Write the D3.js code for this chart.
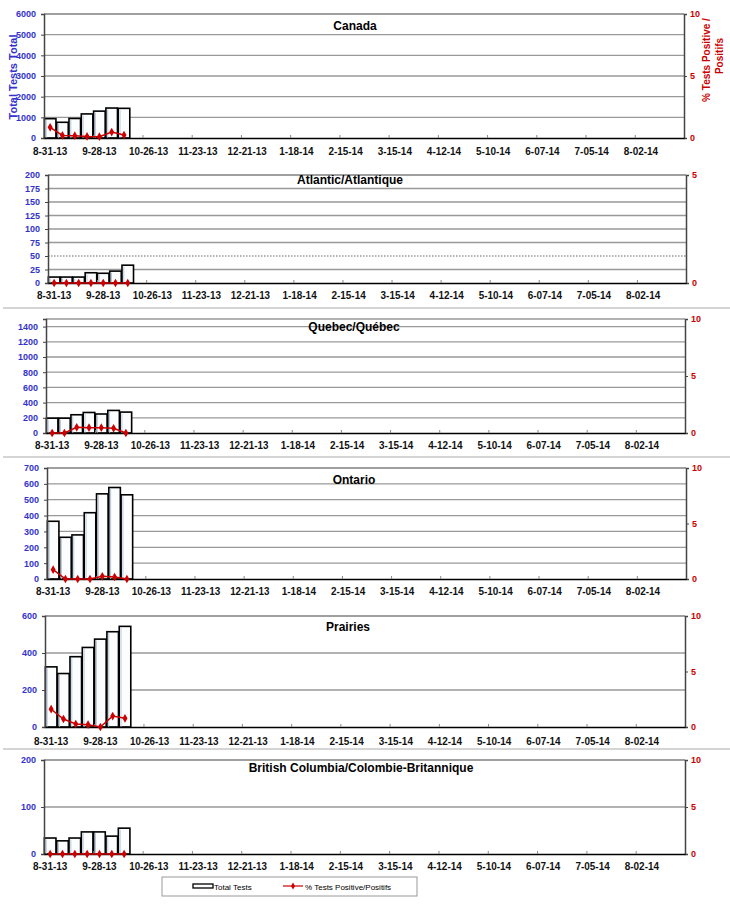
<!DOCTYPE html>
<html><head><meta charset="utf-8">
<script src="https://cdn.jsdelivr.net/npm/d3@7/dist/d3.min.js"></script>
<style>
body{margin:0;background:#fff;}
svg{display:block;font-family:"Liberation Sans",Arial,sans-serif;}
</style></head>
<body>
<svg id="c" width="730" height="915"></svg>
<script>
// ---- data ----
const startWeek = new Date(2013, 7, 31);
const weekCount = 52;
const tickLabels = ["8-31-13","9-28-13","10-26-13","11-23-13","12-21-13","1-18-14","2-15-14","3-15-14","4-12-14","5-10-14","6-07-14","7-05-14","8-02-14"];
const regions = ["Canada","Atlantic/Atlantique","Quebec/Québec","Ontario","Prairies","British Columbia/Colombie-Britannique"];
const canadaTests = [935, 760, 945, 1165, 1300, 1450, 1435];
const canadaPct = [0.86, 0.21, 0.19, 0.13, 0.11, 0.48, 0.24];
const atlanticTests = [11, 11, 11, 19, 18, 22, 33];
const atlanticPct = [0, 0, 0, 0, 0, 0, 0];
const quebecTests = [195, 195, 240, 270, 250, 297, 275];
const quebecPct = [0, 0, 0.5, 0.47, 0.47, 0.41, 0];
const ontarioTests = [364, 263, 278, 418, 537, 577, 531];
const ontarioPct = [0.84, 0, 0, 0, 0.24, 0.18, 0];
const prairiesTests = [325, 289, 380, 430, 475, 515, 544];
const prairiesPct = [1.6, 0.72, 0.27, 0.21, 0, 0.99, 0.78];
const bcTests = [34, 28, 34, 47, 47, 38, 55];
const bcPct = [0, 0, 0, 0, 0, 0, 0];
const leftMax = [6000, 200, 1500, 700, 600, 200];
const leftTickStep = [1000, 25, 200, 100, 200, 100];
const rightMax = [10, 5, 10, 10, 10, 10];
const testsSeries = [canadaTests, atlanticTests, quebecTests, ontarioTests, prairiesTests, bcTests];
const pctSeries = [canadaPct, atlanticPct, quebecPct, ontarioPct, prairiesPct, bcPct];

// ---- layout ----
const panels = [
  {l:44, r:684, t:14,  b:138, tx:355, ty:30,  ly:155},
  {l:48, r:686, t:175, b:283, tx:350, ty:184, ly:299},
  {l:46, r:685, t:319, b:433, tx:354, ty:331, ly:449},
  {l:47, r:686, t:468, b:579, tx:354, ty:484, ly:595},
  {l:45, r:685, t:616, b:727, tx:348, ty:631, ly:745},
  {l:44, r:685, t:760, b:854, tx:361, ty:772, ly:870}
];
const separators = [308, 457, 749];
const blue = "#3333cc", red = "#cc0000";

const weeks = d3.range(weekCount).map(i => d3.timeDay.offset(startWeek, i*7));
const svg = d3.select("#c");

svg.selectAll("line.sep").data(separators).join("line")
  .attr("x1", 3).attr("x2", 730).attr("y1", d=>d).attr("y2", d=>d)
  .attr("stroke", "#aaa").attr("stroke-width", 1);

panels.forEach((p, pi) => {
  const g = svg.append("g");
  const x = d3.scaleBand().domain(weeks).range([p.l, p.r]).paddingInner(0.06).paddingOuter(0.03);
  const xc = d3.scaleBand().domain(weeks).range([p.l, p.r]);
  const y = d3.scaleLinear().domain([0, leftMax[pi]]).range([p.b, p.t]);
  const y2 = d3.scaleLinear().domain([0, rightMax[pi]]).range([p.b, p.t]);
  const lticks = d3.range(0, leftMax[pi] + 0.001, leftTickStep[pi]);

  // gridlines
  g.selectAll("line.grid").data(lticks.filter(v => v > 0)).join("line")
    .attr("x1", p.l).attr("x2", p.r).attr("y1", d=>y(d)).attr("y2", d=>y(d))
    .attr("stroke", "#999").attr("stroke-width", 1.3)
    .attr("stroke-dasharray", d => (pi === 1 && d === 50) ? "1.5,1.5" : null);
  // top border
  g.append("line").attr("x1", p.l).attr("x2", p.r).attr("y1", p.t).attr("y2", p.t)
    .attr("stroke", "#999").attr("stroke-width", 1.5);

  // title
  g.append("text").attr("x", p.tx).attr("y", p.ty).attr("text-anchor", "middle")
    .attr("font-size", 12).attr("font-weight", "bold").attr("fill", "#000").text(regions[pi]);

  // bars
  g.selectAll("rect.bar").data(testsSeries[pi]).join("rect")
    .attr("x", (d,i) => x(weeks[i])).attr("width", x.bandwidth())
    .attr("y", d => y(d)).attr("height", d => p.b - y(d))
    .attr("fill", "#fbfdff").attr("stroke", "#000").attr("stroke-width", 1.6);
  g.selectAll("line.barin").data(testsSeries[pi]).join("line")
    .attr("x1", (d,i) => x(weeks[i]) + 1.8).attr("x2", (d,i) => x(weeks[i]) + 1.8)
    .attr("y1", d => y(d) + 1.5).attr("y2", p.b)
    .attr("stroke", "#b8c8dc").attr("stroke-width", 1);

  // left axis
  const la = g.append("g").attr("transform", `translate(${p.l},0)`)
    .call(d3.axisLeft(y).tickValues(lticks).tickSize(3).tickFormat(d3.format("d")));
  la.select(".domain").attr("stroke", "#444").attr("stroke-width", 1.5);
  la.selectAll(".tick line").attr("stroke", "#444");
  la.selectAll("text").attr("fill", blue).attr("font-size", 9).attr("font-weight", "bold")
    .attr("font-family", "'Liberation Sans',Arial,sans-serif").attr("dx", "-2");

  // right axis
  const ra = g.append("g").attr("transform", `translate(${p.r},0)`)
    .call(d3.axisRight(y2).tickValues(rightMax[pi] === 5 ? [0,5] : [0,5,10]).tickSize(3)
      .tickFormat(d3.format("d")));
  ra.select(".domain").attr("stroke", "#444").attr("stroke-width", 1.5);
  ra.selectAll(".tick line").attr("stroke", "#444");
  ra.selectAll("text").attr("fill", red).attr("font-size", 9).attr("font-weight", "bold")
    .attr("font-family", "'Liberation Sans',Arial,sans-serif");

  // bottom axis
  const labelIdx = d3.range(0, weekCount, 4);
  const ba = g.append("g").attr("transform", `translate(0,${p.b})`)
    .call(d3.axisBottom(xc).tickValues(labelIdx.map(i => weeks[i])).tickSize(0)
      .tickFormat((d,i) => tickLabels[i]));
  ba.select(".domain").attr("stroke", "#000").attr("stroke-width", 1.5);
  ba.selectAll("text").attr("fill", "#111").attr("font-size", 10.5).attr("font-weight", "bold")
    .attr("font-family", "'Liberation Sans',Arial,sans-serif")
    .attr("dy", null)
    .attr("y", p.ly - p.b)
    .attr("textLength", function(d,i){ return tickLabels[i].length * 4.9; })
    .attr("lengthAdjust", "spacingAndGlyphs");
  g.selectAll("line.xt").data(labelIdx.slice(1)).join("line")
    .attr("x1", i => xc(weeks[i]) + 0.5).attr("x2", i => xc(weeks[i]) + 0.5)
    .attr("y1", p.b).attr("y2", p.b - 3).attr("stroke", "#888");

  // percent line
  const line = d3.line().x((d,i) => xc(weeks[i]) + xc.bandwidth()/2).y(d => y2(d));
  g.append("path").datum(pctSeries[pi]).attr("d", line)
    .attr("fill", "none").attr("stroke", red).attr("stroke-width", 1.5);
  g.selectAll("path.dot").data(pctSeries[pi]).join("path")
    .attr("d", d3.symbol(d3.symbolDiamond, 22))
    .attr("transform", (d,i) => `translate(${xc(weeks[i]) + xc.bandwidth()/2},${y2(d)})`)
    .attr("fill", red);
});

// axis titles (Canada panel)
svg.append("text").attr("transform", "translate(17,77) rotate(-90)").attr("text-anchor", "middle")
  .attr("font-size", 11).attr("font-weight", "bold").attr("fill", blue).text("Total Tests Total");
svg.append("text").attr("transform", "translate(710,60) rotate(-90)").attr("text-anchor", "middle")
  .attr("font-size", 10).attr("font-weight", "bold").attr("fill", red).text("% Tests Positive /");
svg.append("text").attr("transform", "translate(723,56) rotate(-90)").attr("text-anchor", "middle")
  .attr("font-size", 10).attr("font-weight", "bold").attr("fill", red).text("Positifs");

// legend
const lg = svg.append("g");
lg.append("rect").attr("x", 162).attr("y", 877).attr("width", 255).attr("height", 19)
  .attr("fill", "#fff").attr("stroke", "#999").attr("stroke-width", 1);
lg.append("rect").attr("x", 193).attr("y", 884).attr("width", 20).attr("height", 4)
  .attr("fill", "#fbfdff").attr("stroke", "#000").attr("stroke-width", 1.3);
lg.append("text").attr("x", 214).attr("y", 889.5).attr("font-size", 8).attr("fill", "#000").text("Total Tests");
lg.append("line").attr("x1", 283).attr("x2", 303).attr("y1", 886).attr("y2", 886)
  .attr("stroke", red).attr("stroke-width", 1.2);
lg.append("path").attr("d", d3.symbol(d3.symbolDiamond, 14)).attr("transform", "translate(293,886)").attr("fill", red);
lg.append("text").attr("x", 305).attr("y", 889.5).attr("font-size", 8).attr("fill", "#000").text("% Tests Positive/Positifs");
</script>
</body></html>
